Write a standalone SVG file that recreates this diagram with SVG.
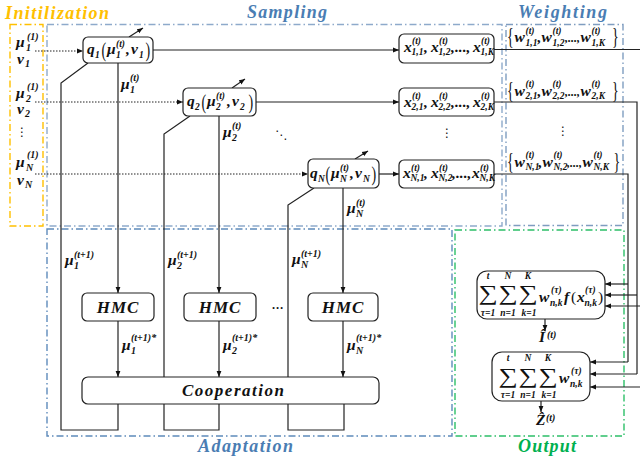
<svg xmlns="http://www.w3.org/2000/svg" width="640" height="462" viewBox="0 0 640 462">
<style>
.mt{font-family:"Liberation Serif","DejaVu Serif",serif;font-weight:bold;font-style:italic;font-size:15.5px;fill:#111}
.sc{font-size:9.5px}
.sl{font-size:10px}
.el{font-size:12px}
.fe{font-family:"Liberation Serif","DejaVu Serif",serif;font-weight:normal;font-style:normal;font-size:14px;fill:#111}
.pn{font-weight:normal;font-style:normal}
.ti{font-family:"Liberation Serif","DejaVu Serif",serif;font-weight:bold;font-style:italic;font-size:18px}
.dots{font-family:"DejaVu Sans",sans-serif;font-size:12px;fill:#111;text-anchor:middle}
.box{fill:#fff;stroke:#222;stroke-width:1.2}
.ln{fill:none;stroke:#222;stroke-width:1.2}
.ar{fill:none;stroke:#222;stroke-width:1.2;marker-end:url(#ah)}
.dt{fill:none;stroke:#222;stroke-width:1;stroke-dasharray:1.5 1.5;marker-end:url(#ah)}
.reg{fill:none;stroke-width:1.4;stroke-dasharray:7 3 1.5 3}
.big{font-family:"Liberation Serif","DejaVu Serif",serif;font-size:20px;fill:#111;text-anchor:middle}
.lim{font-size:9.5px;text-anchor:middle}
</style>
<defs>
<marker id="ah" viewBox="0 0 10 10" refX="10" refY="5" markerWidth="6" markerHeight="6" orient="auto" markerUnits="userSpaceOnUse"><path d="M0,1 L10,5 L0,9 z" fill="#111"/></marker>
</defs>

<g id="regions">
<g id="init-region">
<rect class="reg" x="10" y="24.5" width="33" height="201.5" stroke="#FFC000"/>
<text class="ti" x="5" y="19" fill="#FFC000" textLength="104" lengthAdjust="spacing">Initilization</text>
</g>
<g id="sampling-region">
<rect class="reg" x="47" y="24.5" width="455" height="201.5" stroke="#8EAACB"/>
<text class="ti" x="247" y="18" fill="#4A7DB3" textLength="80" lengthAdjust="spacing">Sampling</text>
</g>
<g id="weighting-region">
<rect class="reg" x="506" y="24.5" width="117" height="201" stroke="#7F9DC0"/>
<text class="ti" x="518" y="18" fill="#4A7DB3" textLength="89" lengthAdjust="spacing">Weighting</text>
</g>
<g id="adaptation-region">
<rect class="reg" x="47" y="229" width="405" height="207" stroke="#5E8BBB"/>
<text class="ti" x="198" y="452" fill="#4A7DB3" textLength="95" lengthAdjust="spacing">Adaptation</text>
</g>
<g id="output-region">
<rect class="reg" x="455" y="230" width="169" height="206" stroke="#2DBF68"/>
<text class="ti" x="518" y="452" fill="#00B050" textLength="58" lengthAdjust="spacing">Output</text>
</g>
</g>

<g id="init-params">
<text class="mt"><tspan x="16" y="47">μ</tspan><tspan class="sl" x="26" y="51">1</tspan><tspan class="sl" x="27" y="40">(1)</tspan></text>
<text class="mt"><tspan x="17" y="64">ν</tspan><tspan class="sl" x="25" y="67">1</tspan></text>
<text class="mt"><tspan x="16" y="98">μ</tspan><tspan class="sl" x="26" y="102">2</tspan><tspan class="sl" x="27" y="90">(1)</tspan></text>
<text class="mt"><tspan x="17" y="114">ν</tspan><tspan class="sl" x="25" y="117">2</tspan></text>
<text class="dots" x="22" y="136">⋮</text>
<text class="mt"><tspan x="16" y="167">μ</tspan><tspan class="sl" x="26" y="171">N</tspan><tspan class="sl" x="27" y="158">(1)</tspan></text>
<text class="mt"><tspan x="17" y="185">ν</tspan><tspan class="sl" x="25" y="188">N</tspan></text>
</g>

<g id="connectors">
<path class="dt" d="M35,51 H83"/>
<path class="dt" d="M35,102 H183"/>
<path class="dt" d="M35,174 H308"/>
<path class="ar" d="M153,50 H399"/>
<path class="ar" d="M256,102 H399"/>
<path class="ar" d="M379,174 H399"/>
<path class="ar" d="M129,37 L143,28"/>
<path class="ar" d="M232,88 L245,79"/>
<path class="ar" d="M355,159 L368,151"/>
<path class="ar" d="M118,63 V293"/>
<path class="ar" d="M219,116 V293"/>
<path class="ar" d="M343,188 V293"/>
<path class="ar" d="M118,321 V377"/>
<path class="ar" d="M219,321 V377"/>
<path class="ar" d="M343,321 V377"/>
<path class="ln" d="M118,404 V430 H61 V83 L88,63"/>
<path class="ln" d="M219,404 V430 H164 V134 L190,116"/>
<path class="ln" d="M344,404 V430 H288 V205 L314,188"/>
<path class="ln" d="M494,49.5 H641"/>
<path class="ln" d="M494,102 H637 V374"/>
<path class="ln" d="M494,174 H628 V362"/>
<path class="ar" d="M628,284 H605"/>
<path class="ar" d="M637,295 H605"/>
<path class="ar" d="M641,306 H605"/>
<path class="ar" d="M628,362 H590"/>
<path class="ar" d="M637,374 H590"/>
<path class="ar" d="M641,387 H590"/>
<path class="ar" d="M545,319 V331"/>
<path class="ar" d="M541,401 V412"/>
</g>

<g id="edge-labels">
<text class="mt"><tspan x="121" y="89">μ</tspan><tspan class="sl" x="130" y="93">1</tspan><tspan class="sl" x="130" y="81">(t)</tspan></text>
<text class="mt"><tspan x="223" y="137">μ</tspan><tspan class="sl" x="232" y="141">2</tspan><tspan class="sl" x="232" y="129">(t)</tspan></text>
<text class="mt"><tspan x="347" y="213">μ</tspan><tspan class="sl" x="356" y="217">N</tspan><tspan class="sl" x="356" y="206">(t)</tspan></text>
<text class="mt"><tspan x="65" y="265">μ</tspan><tspan class="sl" x="74" y="269">1</tspan><tspan class="sl" x="74" y="258">(t+1)</tspan></text>
<text class="mt"><tspan x="168" y="265">μ</tspan><tspan class="sl" x="177" y="269">2</tspan><tspan class="sl" x="177" y="258">(t+1)</tspan></text>
<text class="mt"><tspan x="292" y="264">μ</tspan><tspan class="sl" x="301" y="268">N</tspan><tspan class="sl" x="301" y="257">(t+1)</tspan></text>
<text class="mt"><tspan x="122" y="350">μ</tspan><tspan class="sl" x="131" y="354">1</tspan><tspan class="sl" x="131" y="341">(t+1)*</tspan></text>
<text class="mt"><tspan x="223" y="350">μ</tspan><tspan class="sl" x="232" y="354">2</tspan><tspan class="sl" x="232" y="341">(t+1)*</tspan></text>
<text class="mt"><tspan x="347" y="350">μ</tspan><tspan class="sl" x="356" y="354">N</tspan><tspan class="sl" x="356" y="341">(t+1)*</tspan></text>
<text class="mt"><tspan x="539" y="342">Î</tspan><tspan class="sl" x="547" y="338">(t)</tspan></text>
<text class="mt"><tspan x="536" y="425">Ẑ</tspan><tspan class="sl" x="546" y="421">(t)</tspan></text>
<text class="dots" x="281" y="139">⋱</text>
<text class="mt" x="278" y="309" style="font-size:12px;text-anchor:middle">…</text>
</g>

<g id="q1">
<rect class="box" x="83" y="37" width="70" height="26" rx="5"/>
<text class="mt"><tspan x="87" y="54">q</tspan><tspan class="sc" x="95" y="58">1</tspan><tspan x="107" y="54">μ</tspan><tspan class="sc" x="116" y="58">1</tspan><tspan class="sc" x="116" y="47">(t)</tspan><tspan x="126" y="54">,</tspan><tspan x="131" y="54">ν</tspan><tspan class="sc" x="139" y="58">1</tspan></text>
<text class="fe" transform="translate(101.5,57) scale(1,1.55)">(</text>
<text class="fe" transform="translate(145.5,57) scale(1,1.55)">)</text>
</g>
<g id="q2">
<rect class="box" x="183" y="88" width="73" height="28" rx="5"/>
<text class="mt"><tspan x="187" y="106">q</tspan><tspan class="sc" x="195" y="110">2</tspan><tspan x="207" y="106">μ</tspan><tspan class="sc" x="216" y="110">2</tspan><tspan class="sc" x="216" y="99">(t)</tspan><tspan x="227" y="106">,</tspan><tspan x="232" y="106">ν</tspan><tspan class="sc" x="240" y="110">2</tspan></text>
<text class="fe" transform="translate(201.5,109) scale(1,1.55)">(</text>
<text class="fe" transform="translate(248.5,109) scale(1,1.55)">)</text>
</g>
<g id="qN">
<rect class="box" x="308" y="159" width="71" height="29" rx="5"/>
<text class="mt"><tspan x="310" y="178">q</tspan><tspan class="sc" x="318" y="182">N</tspan><tspan x="331" y="178">μ</tspan><tspan class="sc" x="340" y="182">N</tspan><tspan class="sc" x="340" y="171">(t)</tspan><tspan x="350" y="178">,</tspan><tspan x="355" y="178">ν</tspan><tspan class="sc" x="363" y="182">N</tspan></text>
<text class="fe" transform="translate(325.5,181) scale(1,1.55)">(</text>
<text class="fe" transform="translate(371.5,181) scale(1,1.55)">)</text>
</g>

<g id="x1">
<rect class="box" x="399" y="34" width="95" height="29" rx="5"/>
<text class="mt"><tspan x="404" y="52">x</tspan><tspan class="sc" x="411.5" y="55">1,1</tspan><tspan class="sc" x="412" y="44">(t)</tspan><tspan x="424" y="52">,</tspan><tspan x="431" y="52">x</tspan><tspan class="sc" x="438.5" y="55">1,2</tspan><tspan class="sc" x="439" y="44">(t)</tspan><tspan x="451" y="52">,...,</tspan><tspan x="473" y="52">x</tspan><tspan class="sc" x="480.5" y="55">1,K</tspan><tspan class="sc" x="481" y="44">(t)</tspan></text>
</g>
<g id="x2">
<rect class="box" x="399" y="88" width="95" height="28" rx="5"/>
<text class="mt"><tspan x="404" y="107">x</tspan><tspan class="sc" x="411.5" y="110">2,1</tspan><tspan class="sc" x="412" y="99">(t)</tspan><tspan x="424" y="107">,</tspan><tspan x="431" y="107">x</tspan><tspan class="sc" x="438.5" y="110">2,2</tspan><tspan class="sc" x="439" y="99">(t)</tspan><tspan x="451" y="107">,...,</tspan><tspan x="473" y="107">x</tspan><tspan class="sc" x="480.5" y="110">2,K</tspan><tspan class="sc" x="481" y="99">(t)</tspan></text>
</g>
<text class="dots" x="447" y="137">⋮</text>
<g id="xN">
<rect class="box" x="399" y="160" width="95" height="28" rx="5"/>
<text class="mt"><tspan x="403" y="178">x</tspan><tspan class="sc" x="410.5" y="181">N,1</tspan><tspan class="sc" x="411" y="171">(t)</tspan><tspan x="424" y="178">,</tspan><tspan x="431" y="178">x</tspan><tspan class="sc" x="438.5" y="181">N,2</tspan><tspan class="sc" x="439" y="171">(t)</tspan><tspan x="452" y="178">,...,</tspan><tspan x="472" y="178">x</tspan><tspan class="sc" x="479.5" y="181">N,K</tspan><tspan class="sc" x="480" y="171">(t)</tspan></text>
</g>

<g id="w1">
<text class="fe" transform="translate(507,44) scale(1,1.6)">{</text>
<text class="mt"><tspan x="514.5" y="42">w</tspan><tspan class="sc" x="525.5" y="45.5">1,1</tspan><tspan class="sc" x="525.5" y="33.5">(t)</tspan><tspan x="537.5" y="42">,</tspan><tspan x="541.5" y="42">w</tspan><tspan class="sc" x="552.5" y="45.5">1,2</tspan><tspan class="sc" x="552.5" y="33.5">(t)</tspan><tspan class="el" x="565" y="42">,...,</tspan><tspan x="580.5" y="42">w</tspan><tspan class="sc" x="591.5" y="45.5">1,K</tspan><tspan class="sc" x="591.5" y="33.5">(t)</tspan></text>
<text class="fe" transform="translate(612,44) scale(1,1.6)">}</text>
</g>
<g id="w2">
<text class="fe" transform="translate(507,98) scale(1,1.6)">{</text>
<text class="mt"><tspan x="514.5" y="96">w</tspan><tspan class="sc" x="525.5" y="99">2,1</tspan><tspan class="sc" x="525.5" y="87">(t)</tspan><tspan x="537.5" y="96">,</tspan><tspan x="541.5" y="96">w</tspan><tspan class="sc" x="552.5" y="99">2,2</tspan><tspan class="sc" x="552.5" y="87">(t)</tspan><tspan class="el" x="565" y="96">,...,</tspan><tspan x="580.5" y="96">w</tspan><tspan class="sc" x="591.5" y="99">2,K</tspan><tspan class="sc" x="591.5" y="87">(t)</tspan></text>
<text class="fe" transform="translate(612,98) scale(1,1.6)">}</text>
</g>
<text class="dots" x="563" y="135">⋮</text>
<g id="wN">
<text class="fe" transform="translate(507,169) scale(1,1.6)">{</text>
<text class="mt"><tspan x="514.5" y="167">w</tspan><tspan class="sc" x="525.5" y="170">N,1</tspan><tspan class="sc" x="525.5" y="158">(t)</tspan><tspan x="538.5" y="167">,</tspan><tspan x="542.5" y="167">w</tspan><tspan class="sc" x="553.5" y="170">N,2</tspan><tspan class="sc" x="553.5" y="158">(t)</tspan><tspan class="el" x="567" y="167">,...,</tspan><tspan x="582.5" y="167">w</tspan><tspan class="sc" x="593.5" y="170">N,K</tspan><tspan class="sc" x="593.5" y="158">(t)</tspan></text>
<text class="fe" transform="translate(613.5,169) scale(1,1.6)">}</text>
</g>

<g id="hmc1">
<rect class="box" x="82" y="293" width="72" height="28" rx="5"/>
<text class="ti" x="118" y="313" text-anchor="middle" style="font-size:17px;letter-spacing:1px;fill:#111">HMC</text>
</g>
<g id="hmc2">
<rect class="box" x="184" y="293" width="72" height="28" rx="5"/>
<text class="ti" x="220" y="313" text-anchor="middle" style="font-size:17px;letter-spacing:1px;fill:#111">HMC</text>
</g>
<g id="hmcN">
<rect class="box" x="308" y="293" width="70" height="28" rx="5"/>
<text class="ti" x="343" y="313" text-anchor="middle" style="font-size:17px;letter-spacing:1px;fill:#111">HMC</text>
</g>
<g id="cooperation">
<rect class="box" x="82" y="377" width="297" height="27" rx="6"/>
<text class="ti" x="182" y="396" style="font-size:17px;fill:#111" textLength="102" lengthAdjust="spacing">Cooperation</text>
</g>

<g id="sum-f">
<rect class="box" x="477" y="271" width="128" height="48" rx="10"/>
<text class="big" transform="translate(488,300) scale(1.35,1.05)">∑</text><text class="big" transform="translate(508,300) scale(1.35,1.05)">∑</text><text class="big" transform="translate(528,300) scale(1.35,1.05)">∑</text>
<text class="mt"><tspan class="lim" x="488" y="279">t</tspan><tspan class="lim" x="508" y="279">N</tspan><tspan class="lim" x="528" y="279">K</tspan><tspan class="lim" x="488" y="316">τ=1</tspan><tspan class="lim" x="508" y="316">n=1</tspan><tspan class="lim" x="529" y="316">k=1</tspan></text>
<text class="mt"><tspan x="539" y="302">w</tspan><tspan class="sc" x="550" y="306">n,k</tspan><tspan class="sc" x="551" y="293">(τ)</tspan><tspan x="564" y="302">f</tspan><tspan class="pn" x="571" y="302">(</tspan><tspan x="577" y="302">x</tspan><tspan class="sc" x="584.5" y="306">n,k</tspan><tspan class="sc" x="585" y="293">(τ)</tspan><tspan class="pn" x="598" y="302">)</tspan></text>
</g>
<g id="sum-w">
<rect class="box" x="492" y="352" width="98" height="49" rx="10"/>
<text class="big" transform="translate(508,383) scale(1.35,1.05)">∑</text><text class="big" transform="translate(528,383) scale(1.35,1.05)">∑</text><text class="big" transform="translate(548,383) scale(1.35,1.05)">∑</text>
<text class="mt"><tspan class="lim" x="508" y="361">t</tspan><tspan class="lim" x="528" y="361">N</tspan><tspan class="lim" x="548" y="361">K</tspan><tspan class="lim" x="508" y="398">τ=1</tspan><tspan class="lim" x="528" y="398">n=1</tspan><tspan class="lim" x="549" y="398">k=1</tspan></text>
<text class="mt"><tspan x="559" y="383">w</tspan><tspan class="sc" x="570" y="387">n,k</tspan><tspan class="sc" x="571" y="374">(τ)</tspan></text>
</g>
</svg>
